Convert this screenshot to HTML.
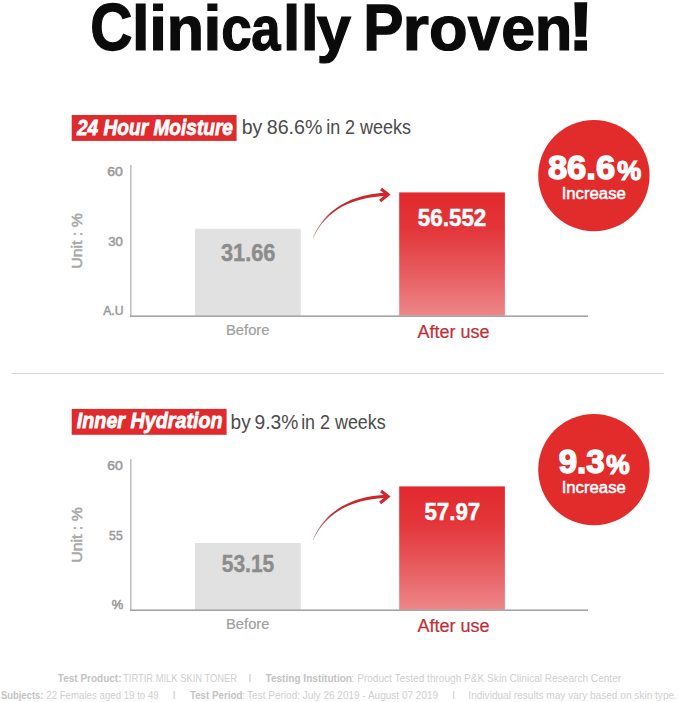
<!DOCTYPE html>
<html><head><meta charset="utf-8">
<style>
html,body{margin:0;padding:0;background:#fff;}
body{width:679px;height:702px;position:relative;overflow:hidden;font-family:"Liberation Sans",sans-serif;}
.t{position:absolute;left:0;top:0;white-space:nowrap;line-height:1;transform-origin:0 0;font-family:"Liberation Sans",sans-serif;}
.a{position:absolute;}
svg{position:absolute;left:0;top:0;}
</style></head><body>
<svg width="679" height="702" viewBox="0 0 679 702">
<defs>
<linearGradient id="rg0" gradientUnits="userSpaceOnUse" x1="0" y1="192.4" x2="0" y2="315.8">
<stop offset="0" stop-color="#e2292d"/>
<stop offset="0.3" stop-color="#e3363a"/>
<stop offset="0.7" stop-color="#e86165"/>
<stop offset="1" stop-color="#ee8789"/>
</linearGradient>
<linearGradient id="rg294" gradientUnits="userSpaceOnUse" x1="0" y1="486.4" x2="0" y2="609.8">
<stop offset="0" stop-color="#e2292d"/>
<stop offset="0.3" stop-color="#e3363a"/>
<stop offset="0.7" stop-color="#e86165"/>
<stop offset="1" stop-color="#ee8789"/>
</linearGradient>
<linearGradient id="ag" gradientUnits="userSpaceOnUse" x1="313" y1="0" x2="388" y2="0">
<stop offset="0" stop-color="#b0525a" stop-opacity="0.7"/>
<stop offset="0.25" stop-color="#be2a33"/>
<stop offset="1" stop-color="#d4242b"/>
</linearGradient>
</defs>

<rect x="195" y="228.8" width="105.8" height="87.0" fill="#e1e1e1"/>
<rect x="399.2" y="192.4" width="105.7" height="123.4" fill="url(#rg0)"/>
<rect x="130" y="165.0" width="1.6" height="152" fill="#c0c0c0"/>
<rect x="130" y="315.4" width="458" height="1.6" fill="#a4a4a4"/>
<path d="M312.8,237.9 C325.4,207.7 353,193.9 387,192.7 L387,196.0 C353,197.0 326.6,209.3 313.2,238.1 Z" fill="url(#ag)"/>
<polyline points="381.0,189.0 388.1,194.5 380.1,201.0" fill="none" stroke="#d2252c" stroke-width="3.1" stroke-linejoin="miter"/>
<circle cx="593.9" cy="175.6" r="55.7" fill="#e22b2b"/>
<rect x="71.7" y="115.0" width="164.9" height="25.9" fill="#df2b2d"/>

<rect x="11.5" y="373" width="652.5" height="1" fill="#d9d9d9"/>

<rect x="195" y="543.0" width="105.8" height="66.8" fill="#e1e1e1"/>
<rect x="399.2" y="486.4" width="105.7" height="123.4" fill="url(#rg294)"/>
<rect x="130" y="459.0" width="1.6" height="152" fill="#c0c0c0"/>
<rect x="130" y="609.4" width="458" height="1.6" fill="#a4a4a4"/>
<path d="M312.8,539.9 C325.4,509.7 353,495.9 387,494.7 L387,498.0 C353,499.0 326.6,511.3 313.2,540.1 Z" fill="url(#ag)"/>
<polyline points="381.0,491.0 388.1,496.5 380.1,503.0" fill="none" stroke="#d2252c" stroke-width="3.1" stroke-linejoin="miter"/>
<circle cx="593.9" cy="469.6" r="55.7" fill="#e22b2b"/>
<rect x="71.7" y="408.9" width="154.9" height="25.9" fill="#df2b2d"/>

</svg>
<span class="t" style="color:#0b0b0b;font-weight:bold;-webkit-text-stroke:1.25px #0b0b0b;font-size:63px;transform:translate(131.93px,-1.86px) scale(1.0000,0.9840)">l</span>
<span class="t" style="color:#0b0b0b;font-weight:bold;-webkit-text-stroke:1.25px #0b0b0b;font-size:63px;transform:translate(149.21px,-1.86px) scale(1.0100,0.9840)">i</span>
<span class="t" style="color:#0b0b0b;font-weight:bold;-webkit-text-stroke:1.25px #0b0b0b;font-size:63px;transform:translate(166.85px,-1.86px) scale(0.9669,0.9840)">n</span>
<span class="t" style="color:#0b0b0b;font-weight:bold;-webkit-text-stroke:1.25px #0b0b0b;font-size:63px;transform:translate(203.59px,-1.86px) scale(1.0200,0.9840)">i</span>
<span class="t" style="color:#0b0b0b;font-weight:bold;-webkit-text-stroke:1.25px #0b0b0b;font-size:63px;transform:translate(221.28px,-1.86px) scale(0.8687,0.9840)">c</span>
<span class="t" style="color:#0b0b0b;font-weight:bold;-webkit-text-stroke:1.25px #0b0b0b;font-size:63px;transform:translate(251.25px,-1.86px) scale(0.8345,0.9840)">a</span>
<span class="t" style="color:#0b0b0b;font-weight:bold;-webkit-text-stroke:1.25px #0b0b0b;font-size:63px;transform:translate(283.02px,-1.86px) scale(0.9900,0.9840)">l</span>
<span class="t" style="color:#0b0b0b;font-weight:bold;-webkit-text-stroke:1.25px #0b0b0b;font-size:63px;transform:translate(300.67px,-1.86px) scale(1.0300,0.9840)">l</span>
<span class="t" style="color:#0b0b0b;font-weight:bold;-webkit-text-stroke:1.25px #0b0b0b;font-size:63px;transform:translate(316.87px,-1.86px) scale(0.9762,0.9840)">y</span>
<span class="t" style="color:#0b0b0b;font-weight:bold;-webkit-text-stroke:1.25px #0b0b0b;font-size:63px;transform:translate(402.58px,-1.86px) scale(1.0795,0.9840)">r</span>
<span class="t" style="color:#0b0b0b;font-weight:bold;-webkit-text-stroke:1.25px #0b0b0b;font-size:63px;transform:translate(428.93px,-1.86px) scale(1.0029,0.9840)">o</span>
<span class="t" style="color:#0b0b0b;font-weight:bold;-webkit-text-stroke:1.25px #0b0b0b;font-size:63px;transform:translate(467.78px,-1.86px) scale(0.9250,0.9840)">v</span>
<span class="t" style="color:#0b0b0b;font-weight:bold;-webkit-text-stroke:1.25px #0b0b0b;font-size:63px;transform:translate(501.29px,-1.86px) scale(0.9638,0.9840)">e</span>
<span class="t" style="color:#0b0b0b;font-weight:bold;-webkit-text-stroke:1.25px #0b0b0b;font-size:63px;transform:translate(534.64px,-1.86px) scale(0.9764,0.9840)">n</span>
<span class="t" style="color:#0b0b0b;font-weight:bold;-webkit-text-stroke:1.25px #0b0b0b;font-size:63px;transform:translate(90.31px,-5.09px) scale(0.9271,1.0470)">C</span>
<span class="t" style="color:#0b0b0b;font-weight:bold;-webkit-text-stroke:1.25px #0b0b0b;font-size:63px;transform:translate(363.15px,-5.07px) scale(0.9568,1.0337)">P</span>
<span class="t" style="color:#0b0b0b;font-weight:bold;-webkit-text-stroke:1.25px #0b0b0b;font-size:63px;transform:translate(567.80px,-6.93px) scale(1.2488,1.0787)">!</span>
<span class="t" style="color:#fff;font-weight:bold;font-style:italic;font-size:21px;-webkit-text-stroke:0.75px #fff;transform:translate(76.98px,116.62px) scale(0.9093,1.0133)">24 Hour Moisture</span>
<span class="t" style="color:#4b4b4b;font-size:20px;transform:translate(241.66px,117.39px) scale(0.9772,0.9966)">by</span>
<span class="t" style="color:#4b4b4b;font-size:20px;transform:translate(266.77px,117.39px) scale(0.9800,0.9966)">86.6%</span>
<span class="t" style="color:#4b4b4b;font-size:20px;transform:translate(326.14px,117.39px) scale(0.8973,0.9966)">in 2 weeks</span>
<span class="t" style="color:#999999;font-size:13px;-webkit-text-stroke:0.5px #999999;transform:translate(107.16px,165.61px) scale(1.0836,0.9684)">60</span>
<span class="t" style="color:#999999;font-size:13px;-webkit-text-stroke:0.5px #999999;transform:translate(108.15px,234.91px) scale(1.0143,0.9684)">30</span>
<span class="t" style="color:#999999;font-size:13px;-webkit-text-stroke:0.5px #999999;transform:translate(103.23px,304.14px) scale(0.9365,0.9474)">A.U</span>
<span class="t" style="color:#8c8c8c;font-weight:bold;font-size:24px;-webkit-text-stroke:0.4px #8c8c8c;transform:translate(220.89px,240.58px) scale(0.9085,1.0114)">31.66</span>
<span class="t" style="color:#fff;font-weight:bold;font-size:24px;-webkit-text-stroke:0.5px #fff;transform:translate(417.80px,205.77px) scale(0.9329,1.0171)">56.552</span>
<span class="t" style="color:#fff;font-weight:bold;font-size:36px;-webkit-text-stroke:1.6px #fff;transform:translate(547.90px,150.92px) scale(0.9588,0.9444)">86.6</span>
<span class="t" style="color:#fff;font-weight:bold;font-size:36px;-webkit-text-stroke:1.6px #fff;transform:translate(617.16px,157.16px) scale(0.7496,0.7514)">%</span>
<span class="t" style="color:#a0a0a0;font-size:14px;-webkit-text-stroke:0.2px #a0a0a0;transform:translate(226.05px,322.77px) scale(1.0516,1.0359)">Before</span>
<span class="t" style="color:#bf2f38;font-size:17px;-webkit-text-stroke:0.2px #bf2f38;transform:translate(417.45px,323.71px) scale(1.0572,1.0468)">After use</span>
<span class="t" style="color:#fff;font-size:16px;-webkit-text-stroke:0.5px #fff;transform:translate(561.66px,185.80px) scale(1.0460,1.0000)">Increase</span>
<span class="t" style="color:#a8a8a8;font-size:15px;-webkit-text-stroke:0.55px #a8a8a8;transform:translate(69.66px,268.79px) rotate(-90deg) scale(1.0576,0.9727)">Unit : %</span>
<span class="t" style="color:#fff;font-weight:bold;font-style:italic;font-size:21px;-webkit-text-stroke:0.75px #fff;transform:translate(76.81px,410.02px) scale(0.9396,1.0133)">Inner Hydration</span>
<span class="t" style="color:#4b4b4b;font-size:20px;transform:translate(230.61px,412.21px) scale(0.9519,0.9966)">by</span>
<span class="t" style="color:#4b4b4b;font-size:20px;transform:translate(254.51px,412.21px) scale(0.9623,0.9966)">9.3%</span>
<span class="t" style="color:#4b4b4b;font-size:20px;transform:translate(301.13px,412.21px) scale(0.8951,0.9966)">in 2 weeks</span>
<span class="t" style="color:#999999;font-size:13px;-webkit-text-stroke:0.5px #999999;transform:translate(107.16px,459.61px) scale(1.0836,0.9684)">60</span>
<span class="t" style="color:#999999;font-size:13px;-webkit-text-stroke:0.5px #999999;transform:translate(109.12px,528.81px) scale(0.9357,0.9789)">55</span>
<span class="t" style="color:#999999;font-size:13px;-webkit-text-stroke:0.5px #999999;transform:translate(111.75px,598.11px) scale(1.0000,0.9684)">%</span>
<span class="t" style="color:#8c8c8c;font-weight:bold;font-size:24px;-webkit-text-stroke:0.4px #8c8c8c;transform:translate(221.68px,551.77px) scale(0.8763,0.9886)">53.15</span>
<span class="t" style="color:#fff;font-weight:bold;font-size:24px;-webkit-text-stroke:0.5px #fff;transform:translate(424.41px,499.78px) scale(0.9294,1.0319)">57.97</span>
<span class="t" style="color:#fff;font-weight:bold;font-size:36px;-webkit-text-stroke:1.6px #fff;transform:translate(558.64px,445.26px) scale(0.9163,0.9358)">9.3</span>
<span class="t" style="color:#fff;font-weight:bold;font-size:36px;-webkit-text-stroke:1.6px #fff;transform:translate(606.23px,451.18px) scale(0.7307,0.7514)">%</span>
<span class="t" style="color:#a0a0a0;font-size:14px;-webkit-text-stroke:0.2px #a0a0a0;transform:translate(226.05px,616.77px) scale(1.0516,1.0359)">Before</span>
<span class="t" style="color:#bf2f38;font-size:17px;-webkit-text-stroke:0.2px #bf2f38;transform:translate(417.45px,617.71px) scale(1.0572,1.0468)">After use</span>
<span class="t" style="color:#fff;font-size:16px;-webkit-text-stroke:0.5px #fff;transform:translate(561.66px,479.80px) scale(1.0460,1.0000)">Increase</span>
<span class="t" style="color:#a8a8a8;font-size:15px;-webkit-text-stroke:0.55px #a8a8a8;transform:translate(69.66px,562.79px) rotate(-90deg) scale(1.0576,0.9727)">Unit : %</span>
<span class="t" style="color:#c3c3c3;font-weight:bold;font-size:11.5px;transform:translate(57.82px,672.78px) scale(0.8694,1.0250)">Test Product:</span>
<span class="t" style="color:#cfcfcf;font-size:11.5px;transform:translate(123.11px,672.78px) scale(0.8144,1.0250)">TIRTIR MILK SKIN TONER</span>
<span class="t" style="color:#cfcfcf;font-size:11.5px;transform:translate(248.26px,672.78px) scale(1.0250,1.0250)">I</span>
<span class="t" style="color:#c3c3c3;font-weight:bold;font-size:11.5px;transform:translate(265.49px,672.78px) scale(0.8757,1.0250)">Testing Institution</span>
<span class="t" style="color:#cfcfcf;font-size:11.5px;transform:translate(351.54px,672.78px) scale(0.8775,1.0250)">: Product Tested through P&amp;K Skin Clinical Research Center</span>
<span class="t" style="color:#c3c3c3;font-weight:bold;font-size:11.5px;transform:translate(0.89px,690.30px) scale(0.8219,1.0125)">Subjects:</span>
<span class="t" style="color:#cfcfcf;font-size:11.5px;transform:translate(46.25px,690.30px) scale(0.8415,1.0125)">22 Females aged 19 to 49</span>
<span class="t" style="color:#cfcfcf;font-size:11.5px;transform:translate(172.50px,690.30px) scale(1.0125,1.0125)">I</span>
<span class="t" style="color:#c3c3c3;font-weight:bold;font-size:11.5px;transform:translate(189.97px,690.30px) scale(0.8477,1.0125)">Test Period</span>
<span class="t" style="color:#cfcfcf;font-size:11.5px;transform:translate(241.73px,690.30px) scale(0.8710,1.0125)">: Test Period: July 26 2019 - August 07 2019</span>
<span class="t" style="color:#cfcfcf;font-size:11.5px;transform:translate(451.90px,690.30px) scale(1.0125,1.0125)">I</span>
<span class="t" style="color:#cfcfcf;font-size:11.5px;transform:translate(468.34px,690.30px) scale(0.8772,1.0125)">Individual results may vary based on skin type.</span>
</body></html>
